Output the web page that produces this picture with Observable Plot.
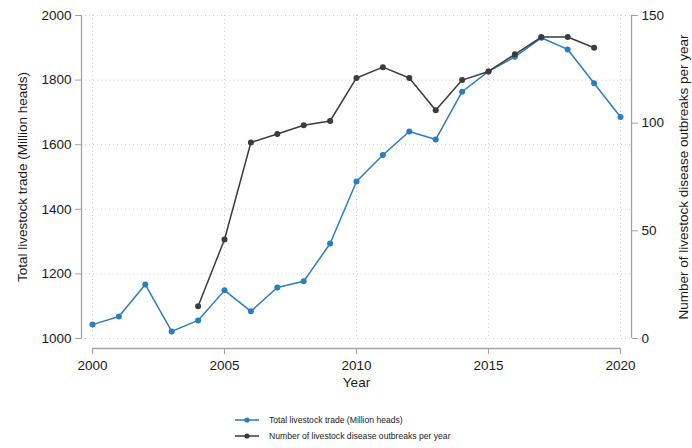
<!DOCTYPE html>
<html>
<head>
<meta charset="utf-8">
<script src="https://cdn.jsdelivr.net/npm/d3@7"></script>
<script src="https://cdn.jsdelivr.net/npm/@observablehq/plot@0.6"></script>
<style>
  html, body { margin: 0; padding: 0; background: #fff; }
  #wrap { position: relative; width: 692px; height: 448px; font-family: "Liberation Sans", Arial, sans-serif; }
  #legend { position: absolute; left: 0; top: 413px; width: 692px; }
  .row { position: absolute; left: 235px; height: 14px; display: flex; align-items: center; font-size: 8.6px; color: #222; }
  .row svg { margin-right: 10px; }
</style>
</head>
<body>
<div id="wrap"><div id="chart"></div><div id="legend"></div></div>
<script>
// ---- data ----
const years = [2000,2001,2002,2003,2004,2005,2006,2007,2008,2009,2010,2011,2012,2013,2014,2015,2016,2017,2018,2019,2020];
const trade = [1043,1068,1167,1022,1056,1149,1084,1158,1177,1294,1486,1568,1641,1616,1764,1827,1872,1931,1895,1790,1686];
const outbreakYears = [2004,2005,2006,2007,2008,2009,2010,2011,2012,2013,2014,2015,2016,2017,2018,2019];
const outbreaks = [15,46,91,95,99,101,121,126,121,106,120,124,132,140,140,135];
const xTicks = [2000,2005,2010,2015,2020];
const leftTicks = [1000,1200,1400,1600,1800,2000];
const rightTicks = [0,50,100,150];
const seriesNames = ["Total livestock trade (Million heads)", "Number of livestock disease outbreaks per year"];
const leftTitle = "Total livestock trade (Million heads)";
const rightTitle = "Number of livestock disease outbreaks per year";
const xTitle = "Year";

// ---- styles ----
const blue = "#2a7dbf";
const dark = "#3c3c3c";
const axisGray = "#a3a3a3";
const gridGray = "#cfcfcf";
const textColor = "#1a1a1a";

const tradeData = years.map((y, i) => ({year: y, value: trade[i]}));
const toLeft = d3.scaleLinear([0, 150], [1000, 2000]);
const outData = outbreakYears.map((y, i) => ({year: y, value: toLeft(outbreaks[i])}));

const pad = 0.4167;
const xDomain = [years[0] - pad, years[years.length - 1] + pad];

const chart = Plot.plot({
  width: 692,
  height: 402,
  marginTop: 15,
  marginBottom: 64,
  marginLeft: 81,
  marginRight: 61,
  style: {fontFamily: "'Liberation Sans', Arial, sans-serif", fontSize: "13.5px", color: textColor, background: "white", overflow: "visible"},
  x: {domain: xDomain, axis: null},
  y: {domain: [1000, 2000], axis: null},
  marks: [
    Plot.ruleY(leftTicks, {stroke: gridGray, strokeDasharray: "1,3", strokeWidth: 1}),
    Plot.ruleX(xTicks, {stroke: gridGray, strokeDasharray: "1,3", strokeWidth: 1}),
    // axis lines
    Plot.ruleX([xDomain[0], xDomain[1]], {y1: 1000, y2: 2000, stroke: axisGray, strokeWidth: 1.3}),
    Plot.ruleY([1000], {x1: years[0], x2: years[years.length - 1], dy: 10, stroke: axisGray, strokeWidth: 1.3}),
    Plot.axisY(leftTicks, {anchor: "left", tickSize: 6, tickPadding: 4, label: null, tickFormat: d => String(d), stroke: axisGray, fill: textColor, fontSize: 13.5}),
    Plot.axisY(rightTicks.map(d => toLeft(d)), {anchor: "right", tickSize: 6, tickPadding: 4, label: null, tickFormat: d => String(Math.round(toLeft.invert(d))), stroke: axisGray, fill: textColor, fontSize: 13.5}),
    Plot.axisX(xTicks, {anchor: "bottom", tickSize: 6, tickPadding: 6, dy: 10, label: null, tickFormat: d => String(d), stroke: axisGray, fill: textColor, fontSize: 13.5}),
    // titles
    Plot.text([leftTitle], {text: d => d, frameAnchor: "left", textAnchor: "middle", lineAnchor: "middle", dx: -59, rotate: -90, fontSize: 13.5, fill: textColor}),
    Plot.text([rightTitle], {text: d => d, frameAnchor: "right", textAnchor: "middle", lineAnchor: "middle", dx: 52, rotate: -90, fontSize: 13.5, fill: textColor}),
    Plot.text([xTitle], {text: d => d, frameAnchor: "bottom", dy: 48, fontSize: 13.5, fill: textColor}),
    // series
    Plot.line(tradeData, {x: "year", y: "value", stroke: blue, strokeWidth: 1.5}),
    Plot.dot(tradeData, {x: "year", y: "value", fill: blue, r: 3}),
    Plot.line(outData, {x: "year", y: "value", stroke: dark, strokeWidth: 1.5}),
    Plot.dot(outData, {x: "year", y: "value", fill: dark, r: 3})
  ]
});
document.getElementById("chart").appendChild(chart);

// ---- legend ----
const legendColors = [blue, dark];
const legend = document.getElementById("legend");
seriesNames.forEach((name, i) => {
  const row = document.createElement("div");
  row.className = "row";
  row.style.top = (i * 15.6) + "px";
  row.innerHTML = `<svg width="24" height="8"><line x1="0" y1="4" x2="24" y2="4" stroke="${legendColors[i]}" stroke-width="1.5"/><circle cx="12" cy="4" r="2.6" fill="${legendColors[i]}"/></svg><span>${name}</span>`;
  legend.appendChild(row);
});
</script>
</body>
</html>
